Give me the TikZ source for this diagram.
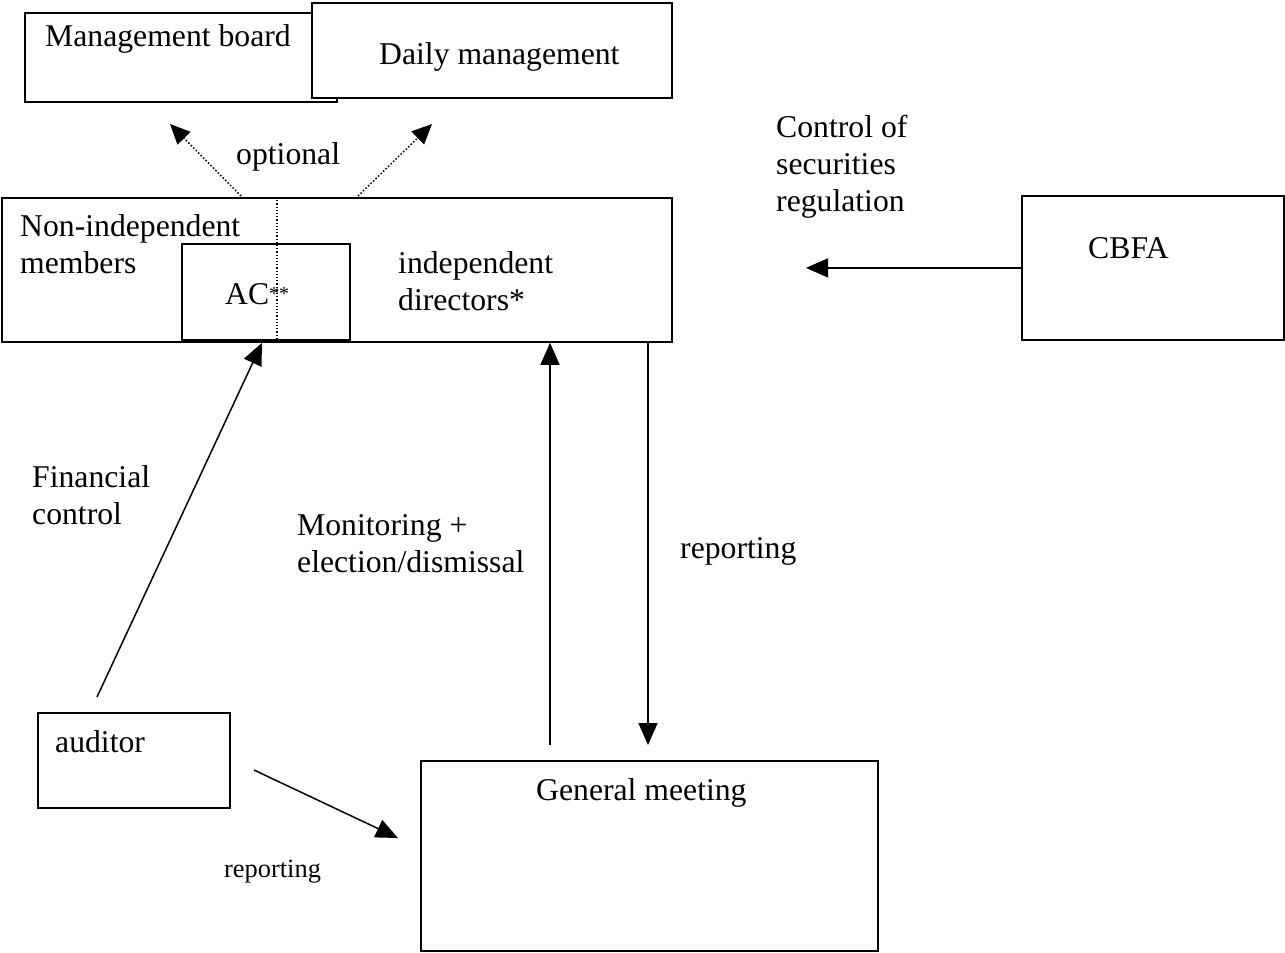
\documentclass[tikz,border=0pt]{standalone}
\usepackage{fontspec}
\setmainfont{Liberation Serif}
\usetikzlibrary{arrows.meta,positioning}

\begin{document}
\begin{tikzpicture}[x=1pt,y=-1pt,
    box/.style={draw, line width=1.8pt, fill=white, anchor=north west, inner sep=0pt},
    lbl/.style={font=\fontsize{31.7}{37}\selectfont, inner sep=0pt, align=left, anchor=base west},
    smalllbl/.style={font=\fontsize{26.4}{31}\selectfont, inner sep=0pt, anchor=base west},
    arr/.style={line width=1.5pt, -{Triangle[length=22pt,width=19pt]}},
    dotarr/.style={line width=1.5pt, dotted, -{Triangle[length=20pt,width=18pt]}}]
    \useasboundingbox (0,0) rectangle (1285,953);
    % boxes
    \node[box, minimum width=312pt, minimum height=89pt] (mb) at (24,12) {};
    \node[box, minimum width=360pt, minimum height=95pt] (dm) at (311,2) {};
    \node[box, minimum width=670pt, minimum height=144pt] (board) at (1,197) {};
    \node[box, minimum width=168pt, minimum height=96pt] (ac) at (181,243) {};
    \node[box, minimum width=262pt, minimum height=144pt] (cbfa) at (1021,195) {};
    \node[box, minimum width=192pt, minimum height=95pt] (aud) at (37,712) {};
    \node[box, minimum width=457pt, minimum height=190pt] (gm) at (420,760) {};
    % split of the board
    \coordinate (splittop) at (277,197);
    \draw[dotted, line width=1.2pt] (splittop) -- (splittop |- board.south);
    % labels (multi-line ones sit on their last line)
    \node[lbl] (mbtext) at (45,46) {Management board};
    \node[lbl] (dmtext) at (379,64) {Daily management};
    \node[lbl] (opttext) at (236,164) {optional};
    \node[lbl] (nimtext) at (20,273) {Non-independent\\members};
    \node[lbl] (actext) at (225,304) {AC\raisebox{4pt}{\fontsize{20}{24}\selectfont**}};
    \node[lbl] (indtext) at (398,310) {independent\\directors*};
    \node[lbl] (ctltext) at (776,211) {Control of\\securities\\regulation};
    \node[lbl] (cbfatext) at (1088,258) {CBFA};
    \node[lbl] (fintext) at (32,524) {Financial\\control};
    \node[lbl] (montext) at (297,572) {Monitoring +\\election/dismissal};
    \node[lbl] (reptext) at (680,558) {reporting};
    \node[lbl] (audtext) at (55,752) {auditor};
    \node[lbl] (gmtext) at (536,800) {General meeting};
    \node[smalllbl] (audrep) at (224,877) {reporting};
    % optional arrows
    \coordinate (optleft) at (241,196);
    \coordinate (optright) at (358,196);
    \draw[dotarr] (optleft) -- (170,124);
    \draw[dotarr] (optright) -- (432,124);
    % arrows
    \coordinate (audout) at (97,697);
    \coordinate (finend) at (262,0);
    \coordinate (monstart) at (550,745);
    \coordinate (repstart) at (648,341);
    \coordinate (audrepstart) at (254,770);
    \draw[arr] (audout) -- (finend |- board.south);
    \draw[arr] (monstart) -- (monstart |- board.south);
    \draw[arr] (repstart) -- (repstart |- monstart);
    \draw[arr] (audrepstart) -- (398,838);
    \draw[arr] (cbfa.west) -- ++(-215,0);
\end{tikzpicture}
\end{document}
